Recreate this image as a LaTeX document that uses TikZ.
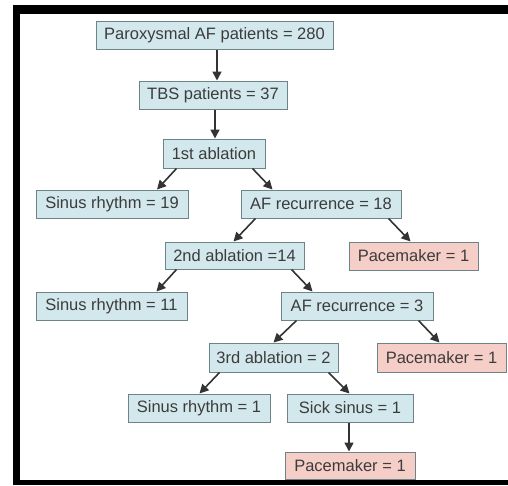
\documentclass[tikz,border=0pt]{standalone}
\usepackage{fontspec}
\setmainfont{Liberation Sans}
\usetikzlibrary{arrows.meta}
\definecolor{boxblue}{HTML}{D3E8EC}
\definecolor{boxpink}{HTML}{F6CEC8}
\definecolor{boxedge}{HTML}{6E8387}
\definecolor{txt}{HTML}{3C3C3C}
\definecolor{arr}{HTML}{333333}
\tikzset{
  fbox/.style={draw=boxedge, line width=1pt, inner sep=0pt, text=txt,
    font=\fontsize{16.5}{18}\selectfont, anchor=center},
  bluebox/.style={fbox, fill=boxblue},
  pinkbox/.style={fbox, fill=boxpink},
  conn/.style={draw=arr, line width=1.6pt, -{Triangle[length=9pt,width=9pt]}}
}
\begin{document}
\begin{tikzpicture}[x=1pt,y=-1pt]
\useasboundingbox (0,0) rectangle (508,485);
\fill[white] (0,0) rectangle (508,485);
\fill[black] (13,5) rectangle (508,485);
\fill[white] (20,14) rectangle (508,480);

\node[bluebox, minimum width=237pt, minimum height=28pt] (p280) at (214.5,35.5) {Paroxysmal AF patients = 280};
\node[bluebox, minimum width=148pt, minimum height=28pt] (tbs) at (213,95) {TBS patients = 37};
\node[bluebox, minimum width=102pt, minimum height=29pt] (abl1) at (214,153.5) {1st ablation};
\node[bluebox, minimum width=152pt, minimum height=28pt] (sr19) at (112,204) {Sinus rhythm = 19};
\node[bluebox, minimum width=160pt, minimum height=28pt] (afr18) at (321,204) {AF recurrence = 18};
\node[bluebox, minimum width=139pt, minimum height=27pt] (abl2) at (234.5,255.5) {2nd ablation =14};
\node[pinkbox, minimum width=129pt, minimum height=28pt] (pm1) at (413.5,256) {Pacemaker = 1};
\node[bluebox, minimum width=151pt, minimum height=28pt] (sr11) at (111.5,306) {Sinus rhythm = 11};
\node[bluebox, minimum width=152pt, minimum height=28pt] (afr3) at (357,306) {AF recurrence = 3};
\node[bluebox, minimum width=129pt, minimum height=29pt] (abl3) at (273.5,357.5) {3rd ablation = 2};
\node[pinkbox, minimum width=129pt, minimum height=29pt] (pm2) at (441.5,357.5) {Pacemaker = 1};
\node[bluebox, minimum width=142pt, minimum height=28pt] (sr1) at (199,408) {Sinus rhythm = 1};
\node[bluebox, minimum width=126pt, minimum height=28pt] (sick) at (350,408) {Sick sinus = 1};
\node[pinkbox, minimum width=130pt, minimum height=27pt] (pm3) at (350,465.5) {Pacemaker = 1};

\draw[conn] ([xshift=2.5pt]p280.south) -- ([xshift=4pt]tbs.north);
\draw[conn] ([xshift=2pt]tbs.south) -- ([xshift=1pt]abl1.north);
\draw[conn] ([xshift=14pt]abl1.south west) -- ([xshift=45pt]sr19.north);
\draw[conn] ([xshift=-13pt]abl1.south east) -- ([xshift=32pt]afr18.north west);
\draw[conn] ([xshift=15pt]afr18.south west) -- ([xshift=-1pt]abl2.north);
\draw[conn] ([xshift=-13pt]afr18.south east) -- ([xshift=-3pt]pm1.north);
\draw[conn] ([xshift=12pt]abl2.south west) -- ([xshift=121pt]sr11.north west);
\draw[conn] ([xshift=-13pt]abl2.south east) -- ([xshift=32pt]afr3.north west);
\draw[conn] ([xshift=16pt]afr3.south west) -- ([xshift=65pt]abl3.north west);
\draw[conn] ([xshift=-15pt]afr3.south east) -- ([xshift=-2pt]pm2.north);
\draw[conn] ([xshift=11pt]abl3.south west) -- ([xshift=-71pt]sr1.north east);
\draw[conn] ([xshift=-10pt]abl3.south east) -- ([xshift=63pt]sick.north west);
\draw[conn] ([xshift=-1pt]sick.south) -- ([xshift=-1pt]pm3.north);

\fill[black] (13,480) rectangle (508,485);
\end{tikzpicture}
\end{document}
